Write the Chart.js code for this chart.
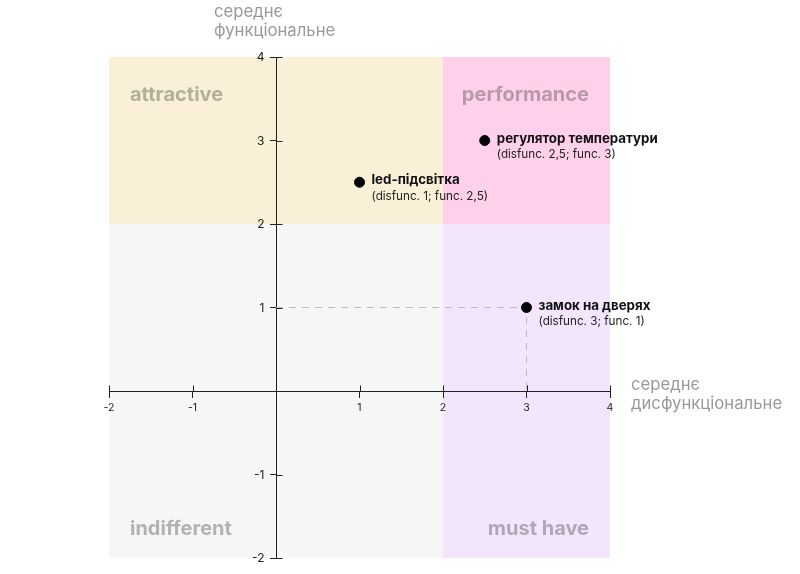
<!DOCTYPE html>
<html>
<head>
<meta charset="utf-8">
<script src="https://cdn.jsdelivr.net/npm/chart.js@4.4.1/dist/chart.umd.min.js"></script>
<style>
  html, body { margin: 0; padding: 0; background: #fff; }
  #wrap { width: 800px; height: 574px; }
</style>
</head>
<body>
<div id="wrap"><canvas id="kano"></canvas></div>
<script>
// features and their averaged scores
const features = ['led-підсвітка', 'регулятор температури', 'замок на дверях'];
const disfunc = [1, 2.5, 3];
const func = [2.5, 3, 1];
const details = ['(disfunc. 1; func. 2,5)', '(disfunc. 2,5; func. 3)', '(disfunc. 3; func. 1)'];

// dashed guide for the last feature
const guideX = [0, 3, 3];
const guideY = [1, 1, 0];

// kano quadrants
const quadrantNames = ['attractive', 'performance', 'indifferent', 'must have'];
const quadrantX = [[-2, 2], [2, 4], [-2, 2], [2, 4]];
const quadrantY = [[2, 4], [2, 4], [-2, 2], [-2, 2]];

const axisTitleY = ['середнє', 'функціональне'];
const axisTitleX = ['середнє', 'дисфункціональне'];

const FONT = 'Inter, "Noto Sans", sans-serif';
const quadrantColors = ['#faf0d7', '#ffd0ec', '#f6f6f6', '#f3e5fc'];
const tickLabel = v => (v === 0 ? '' : String(v));

const kanoPlugin = {
  id: 'kano',
  // backgrounds go under the axes
  beforeDraw(chart) {
    const { ctx, scales: { x, y } } = chart;
    ctx.save();
    quadrantNames.forEach((name, i) => {
      const x0 = x.getPixelForValue(quadrantX[i][0]);
      const x1 = x.getPixelForValue(quadrantX[i][1]);
      const y0 = y.getPixelForValue(quadrantY[i][1]);
      const y1 = y.getPixelForValue(quadrantY[i][0]);
      ctx.fillStyle = quadrantColors[i];
      ctx.fillRect(x0, y0, x1 - x0, y1 - y0);
    });
    ctx.font = 'bold 20px ' + FONT;
    ctx.fillStyle = 'rgba(40,40,40,0.33)';
    ctx.textBaseline = 'middle';
    quadrantNames.forEach((name, i) => {
      const x0 = x.getPixelForValue(quadrantX[i][0]);
      const x1 = x.getPixelForValue(quadrantX[i][1]);
      const top = quadrantY[i][0] > 0;
      const ty = top ? y.getPixelForValue(quadrantY[i][1]) + 38 : y.getPixelForValue(quadrantY[i][0]) - 29;
      if (quadrantX[i][0] < 0) {
        ctx.textAlign = 'left';
        ctx.fillText(name, x0 + 21, ty);
      } else {
        ctx.textAlign = 'right';
        ctx.fillText(name, x1 - 21, ty);
      }
    });
    ctx.restore();
  },
  afterDraw(chart) {
    const { ctx, scales: { x, y } } = chart;
    ctx.save();
    // inner halves of the tick marks
    ctx.strokeStyle = '#222';
    ctx.lineWidth = 1;
    const ax = Math.round(x.getPixelForValue(0)) + 0.5;
    const ay = Math.round(y.getPixelForValue(0)) + 0.5;
    ctx.beginPath();
    x.ticks.forEach(t => {
      const px = Math.round(x.getPixelForValue(t.value)) + 0.5;
      ctx.moveTo(px, ay);
      ctx.lineTo(px, ay - 6);
    });
    y.ticks.forEach(t => {
      const py = Math.round(y.getPixelForValue(t.value)) + 0.5;
      ctx.moveTo(ax, py);
      ctx.lineTo(ax + 6, py);
    });
    ctx.stroke();

    // y tick labels (centered axis puts them on the line, so place them here)
    ctx.fillStyle = '#222';
    ctx.font = '12px ' + FONT;
    ctx.textAlign = 'right';
    ctx.textBaseline = 'middle';
    y.ticks.forEach(t => {
      ctx.fillText(tickLabel(t.value), ax - 12, y.getPixelForValue(t.value) + 0.5);
    });

    // point labels
    const meta = chart.getDatasetMeta(1);
    ctx.textAlign = 'left';
    meta.data.forEach((pt, i) => {
      ctx.fillStyle = '#111';
      ctx.font = 'bold 13.3px ' + FONT;
      ctx.fillText(features[i], pt.x + 12, pt.y - 2);
      ctx.fillStyle = '#222';
      ctx.font = '11.7px ' + FONT;
      ctx.fillText(details[i], pt.x + 12, pt.y + 14);
    });

    // axis titles
    ctx.fillStyle = '#999';
    ctx.font = '16.7px ' + FONT;
    ctx.fillText(axisTitleY[0], 214, 12);
    ctx.fillText(axisTitleY[1], 214, 31);
    ctx.fillText(axisTitleX[0], 631, 385);
    ctx.fillText(axisTitleX[1], 631, 404);
    ctx.restore();
  }
};

const axisCommon = () => ({
  type: 'linear',
  min: -2,
  max: 4,
  ticks: {
    stepSize: 1,
    color: '#222',
    padding: 5,
    font: { family: FONT, size: 10.5 },
    callback: tickLabel
  },
  grid: { drawOnChartArea: false, drawTicks: true, tickLength: 6, color: '#222' },
  border: { color: '#222', width: 1 }
});

const yAxis = Object.assign(axisCommon(), { position: { x: 0 } });
yAxis.ticks.callback = () => '';

new Chart(document.getElementById('kano').getContext('2d'), {
  type: 'scatter',
  data: {
    datasets: [
      {
        type: 'line',
        order: 2,
        data: guideX.map((v, i) => ({ x: v, y: guideY[i] })),
        borderColor: '#bdbdbd',
        borderWidth: 1,
        borderDash: [7, 6],
        pointRadius: 0,
        pointHoverRadius: 0,
        fill: false
      },
      {
        order: 1,
        data: disfunc.map((v, i) => ({ x: v, y: func[i] })),
        backgroundColor: '#000',
        borderColor: '#000',
        pointRadius: 5,
        pointHoverRadius: 5
      }
    ]
  },
  options: {
    responsive: true,
    maintainAspectRatio: false,
    animation: false,
    layout: { padding: { left: 109, right: 190, top: 57, bottom: 16 } },
    plugins: { legend: { display: false }, tooltip: { enabled: false } },
    scales: {
      x: Object.assign(axisCommon(), { position: { y: 0 } }),
      y: yAxis
    }
  },
  plugins: [kanoPlugin]
});
</script>
</body>
</html>
